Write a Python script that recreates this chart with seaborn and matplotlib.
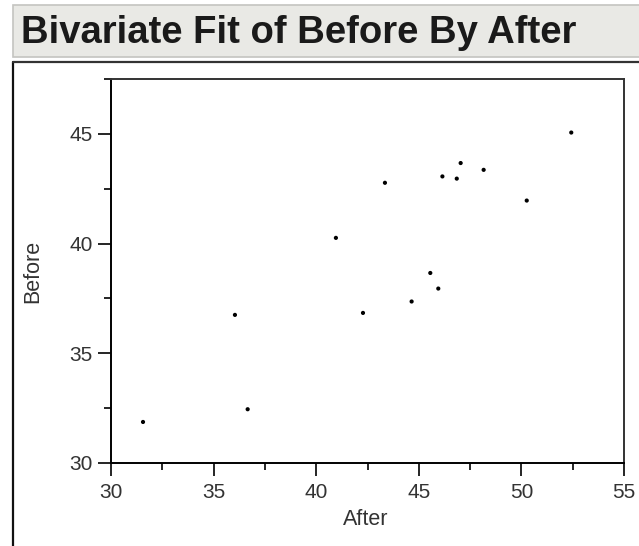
import numpy as np
import pandas as pd
import seaborn as sns
import matplotlib.pyplot as plt
from matplotlib.patches import Rectangle
from matplotlib.lines import Line2D
from matplotlib.ticker import MultipleLocator

# Data
after = [31.56, 36.04, 36.66, 40.96, 42.28, 43.35, 44.65, 45.56, 45.95,
         46.15, 46.85, 47.04, 48.16, 50.26, 52.43]
before = [31.87, 36.75, 32.45, 40.26, 36.84, 42.77, 37.36, 38.66, 37.95,
          43.06, 42.96, 43.67, 43.36, 41.96, 45.06]
x_ticks = [30, 35, 40, 45, 50, 55]
y_ticks = [30, 35, 40, 45]

df = pd.DataFrame({"After": after, "Before": before})

sns.set_style("white")
plt.rcParams['font.family'] = ['Liberation Sans', 'DejaVu Sans']

W, H = 639, 546
fig = plt.figure(figsize=(W / 100, H / 100), dpi=100)

# title bar and outer panel frame
fig.patches.append(Rectangle((13 / W, 1 - 57 / H), 1, 52 / H, transform=fig.transFigure,
                             facecolor="#e9e9e5", edgecolor="#c4c4c0", lw=1.2))
fig.text(21 / W, 1 - 43 / H, "Bivariate Fit of Before By After", fontsize=27.5,
         fontweight="bold", color="#1a1a1a", va="baseline", ha="left")
fig.lines.append(Line2D([13 / W, 13 / W], [0, 1 - 62 / H], transform=fig.transFigure,
                        color="#111111", lw=1.6))
fig.lines.append(Line2D([13 / W, 1], [1 - 62 / H, 1 - 62 / H], transform=fig.transFigure,
                        color="#333333", lw=1.6))

ax = fig.add_axes([111 / W, 1 - 463 / H, (624 - 111) / W, (463 - 79) / H])
sns.scatterplot(data=df, x="After", y="Before", ax=ax, color="black", s=9,
                edgecolor="none", marker="o")

ax.set_xlim(30, 55)
ax.set_ylim(30, 47.5)
ax.set_xticks(x_ticks)
ax.set_yticks(y_ticks)
ax.xaxis.set_minor_locator(MultipleLocator(2.5))
ax.yaxis.set_minor_locator(MultipleLocator(2.5))
ax.tick_params(which="major", direction="out", length=9.4, width=1.2, color="black",
               labelsize=15, labelcolor="#333333")
ax.tick_params(axis="y", which="major", pad=3.6)
ax.tick_params(axis="x", which="major", pad=5)
ax.tick_params(which="minor", direction="out", length=5, width=1.2, color="black")
ax.tick_params(axis="x", which="both", bottom=True)
ax.tick_params(axis="y", which="both", left=True)

for side in ["left", "bottom"]:
    ax.spines[side].set_color("black")
    ax.spines[side].set_linewidth(1.4)
for side in ["top", "right"]:
    ax.spines[side].set_color("#333333")
    ax.spines[side].set_linewidth(1.4)

ax.set_xlabel("After", fontsize=15.5, color="#333333")
ax.set_ylabel("Before", fontsize=15.5, color="#333333")
ax.xaxis.set_label_coords((366 - 111) / 513, (463 - 509) / 384)
ax.yaxis.set_label_coords((43 - 111) / 513, 0.5)

fig.savefig("out.png", dpi=100)
